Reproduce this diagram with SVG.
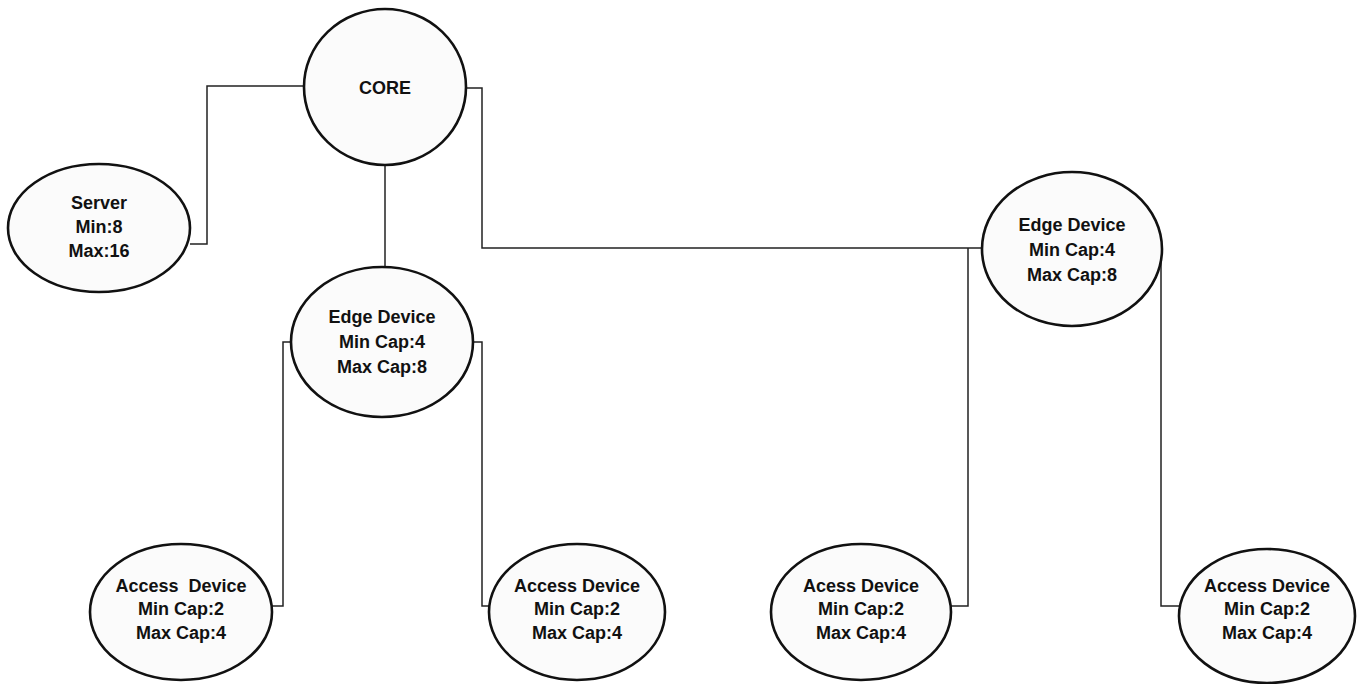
<svg xmlns="http://www.w3.org/2000/svg" width="1358" height="684" viewBox="0 0 1358 684">
<style>
.n{fill:#fbfbfb;stroke:#111;stroke-width:2.6}
.t{font-family:"Liberation Sans",Arial,sans-serif;font-weight:bold;font-size:18px;fill:#111;text-anchor:middle;dominant-baseline:central}
.c{fill:none;stroke:#222;stroke-width:1.5}
</style>
<rect width="1358" height="684" fill="#fff"/>
<g id="connectors">
<polyline class="c" points="306,86 207,86 207,244 190,244"/>
<line class="c" x1="385" y1="165" x2="385" y2="267"/>
<polyline class="c" points="465,88 482,88 482,248 984,248"/>
<polyline class="c" points="292,342 283,342 283,606 271,606"/>
<polyline class="c" points="471,342 482,342 482,606 490,606"/>
<polyline class="c" points="968,248 968,606 951,606"/>
<polyline class="c" points="1148,256 1161,256 1161,606 1179,606"/>
</g>
<g id="core"><ellipse class="n" cx="385" cy="87" rx="81" ry="78"/><text class="t" x="385" y="88">CORE</text></g>
<g id="server"><ellipse class="n" cx="99" cy="228" rx="91" ry="64"/><text class="t" x="99" y="203">Server</text><text class="t" x="99" y="227">Min:8</text><text class="t" x="99" y="251">Max:16</text></g>
<g id="edge1"><ellipse class="n" cx="382" cy="342" rx="91" ry="75"/><text class="t" x="382" y="317">Edge Device</text><text class="t" x="382" y="342">Min Cap:4</text><text class="t" x="382" y="367">Max Cap:8</text></g>
<g id="edge2"><ellipse class="n" cx="1072" cy="249" rx="90" ry="77"/><text class="t" x="1072" y="225">Edge Device</text><text class="t" x="1072" y="250">Min Cap:4</text><text class="t" x="1072" y="275">Max Cap:8</text></g>
<g id="access1"><ellipse class="n" cx="181" cy="612" rx="91" ry="68"/><text class="t" x="181" y="586" xml:space="preserve">Access  Device</text><text class="t" x="181" y="609">Min Cap:2</text><text class="t" x="181" y="633">Max Cap:4</text></g>
<g id="access2"><ellipse class="n" cx="577" cy="612" rx="88" ry="68"/><text class="t" x="577" y="586">Access Device</text><text class="t" x="577" y="609">Min Cap:2</text><text class="t" x="577" y="633">Max Cap:4</text></g>
<g id="access3"><ellipse class="n" cx="861" cy="612" rx="90" ry="68"/><text class="t" x="861" y="586">Acess Device</text><text class="t" x="861" y="609">Min Cap:2</text><text class="t" x="861" y="633">Max Cap:4</text></g>
<g id="access4"><ellipse class="n" cx="1267" cy="616" rx="88" ry="67"/><text class="t" x="1267" y="586">Access Device</text><text class="t" x="1267" y="609">Min Cap:2</text><text class="t" x="1267" y="633">Max Cap:4</text></g>
</svg>
